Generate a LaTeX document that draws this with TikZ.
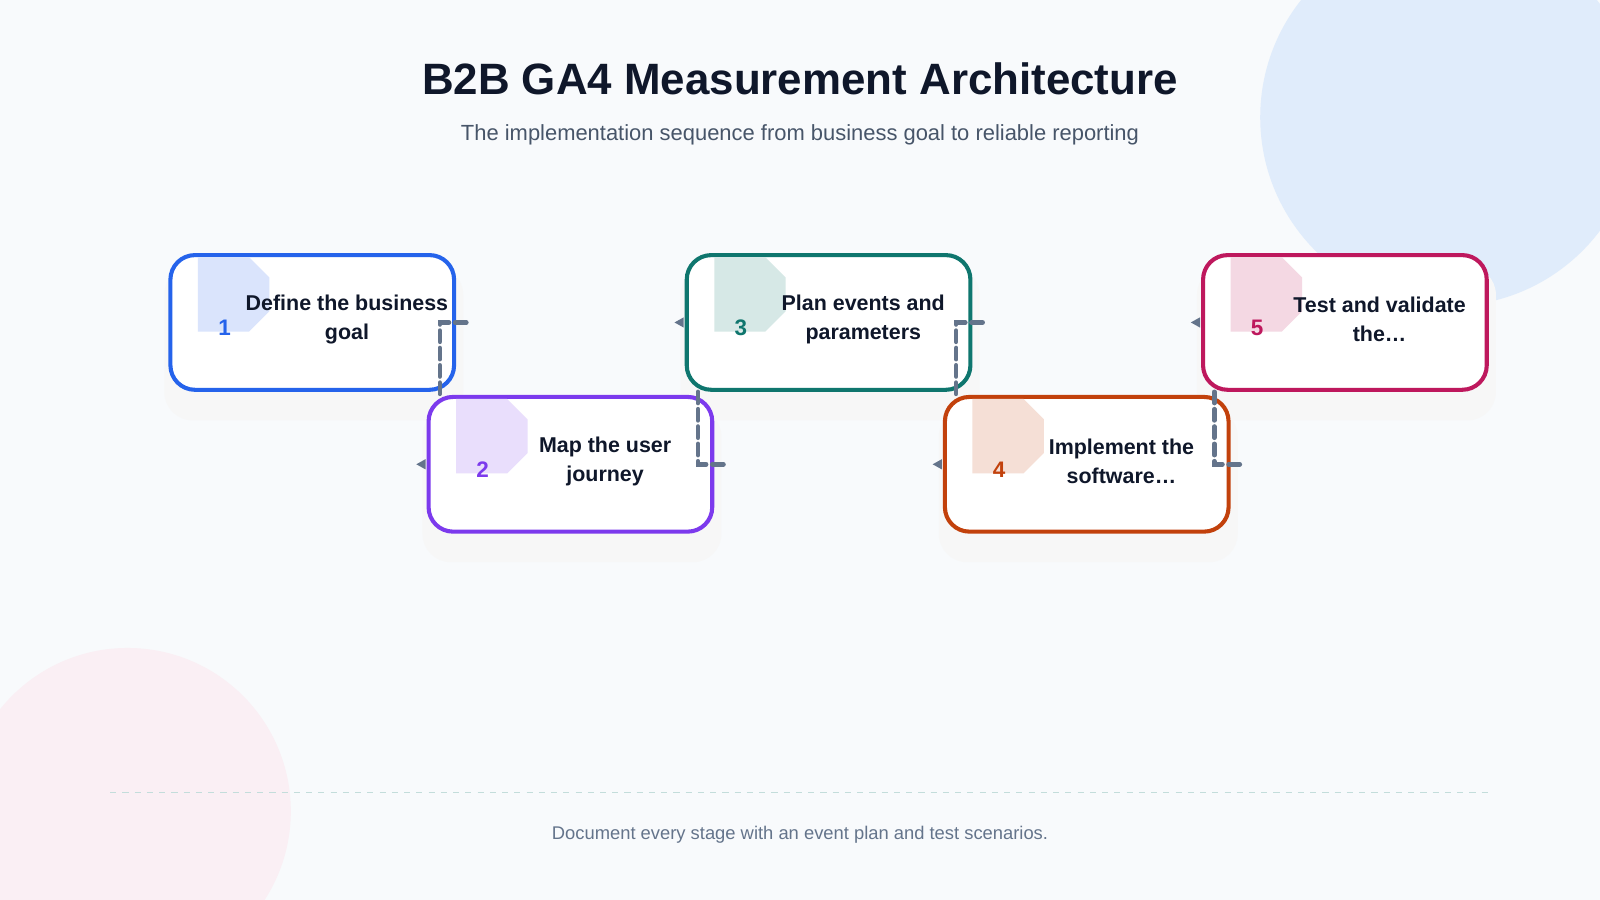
\documentclass[tikz,border=0pt]{standalone}
\usepackage{fontspec}
\setmainfont{Liberation Sans}
\usetikzlibrary{arrows.meta, positioning, calc}
\definecolor{bgpage}{HTML}{F8FAFC}
\definecolor{ink}{HTML}{0F172A}
\definecolor{subink}{HTML}{475569}
\definecolor{connc}{HTML}{64748B}
\definecolor{sA}{HTML}{2563EB}
\definecolor{sB}{HTML}{7C3AED}
\definecolor{sC}{HTML}{0F766E}
\definecolor{sD}{HTML}{C2410C}
\definecolor{sE}{HTML}{BE185D}
\definecolor{blobA}{HTML}{E0ECFB}
\tikzset{
  step/.style={draw=#1, line width=4pt, rounded corners=24pt, fill=white,
    minimum width=278pt, minimum height=132pt, inner sep=0pt},
  shade box/.style={fill=black!3, rounded corners=28pt},
  badge/.style={fill=#1!17, draw=none},
  numtxt/.style={text=#1, font=\bfseries\fontsize{22}{24}\selectfont},
  steptxt/.style={text=ink, align=center, font=\bfseries\fontsize{21}{28}\selectfont},
  conn/.style={draw=connc, line width=4.5pt, dash pattern=on 11pt off 6pt, line cap=round},
  tip/.style={fill=connc, draw=none}
}
\begin{document}
\begin{tikzpicture}[x=1pt, y=-1pt]
\useasboundingbox (0,0) rectangle (1568,882);
\fill[bgpage] (0,0) rectangle (1568,882);
% decorative circles
\begin{scope}
\clip (0,0) rectangle (1568,882);
\fill[blobA] (1420,115) circle (185);
\fill[sE!7] (125,795) circle (160);
\end{scope}
% title
\node[text=ink, font=\bfseries\fontsize{43}{48}\selectfont] (title) at (784,77) {B2B GA4 Measurement Architecture};
\node[text=subink, font=\fontsize{21.5}{24}\selectfont] (subtitle) at (784,132) {The implementation sequence from business goal to reliable reporting};
% shadows first
\foreach \x/\y in {306/316, 559/455, 812/316, 1065/455, 1318/316} {
  \fill[shade box] (\x-145,\y-55) rectangle (\x+148,\y+96);
  \fill[shade box] (\x-141,\y-58) rectangle (\x+144,\y+88);
}
% steps
\foreach \n/\x/\y/\col/\txt in {1/306/316/sA/{Define the business\\goal},
    2/559/455/sB/{Map the user\\journey},
    3/812/316/sC/{Plan events and\\parameters},
    4/1065/455/sD/{Implement the\\software\ldots},
    5/1318/316/sE/{Test and validate\\the\ldots}} {
  \node[step=\col] (b\n) at (\x,\y) {};
  \fill[badge=\col] (\x-112,\y-64) -- (\x-62,\y-64) -- (\x-42,\y-44) -- (\x-42,\y-11) -- (\x-62,\y+9) -- (\x-112,\y+9) -- cycle;
  \node[numtxt=\col] (n\n) at (\x-86,\y+5) {\n};
  \node[steptxt] (t\n) at (\x+34,\y-3) {\txt};
}
% connectors
\coordinate (c1) at ($(b1.east)+(10,0)$);
\coordinate (c2) at ($(b2.north west)+(13,0)$);
\coordinate (c3) at ($(b3.south west)+(13,0)$);
\coordinate (c4) at ($(b2.east)+(10,0)$);
\coordinate (c5) at ($(b3.east)+(10,0)$);
\coordinate (c6) at ($(b4.north west)+(13,0)$);
\coordinate (c7) at ($(b5.south west)+(13,0)$);
\coordinate (c8) at ($(b4.east)+(10,0)$);
\draw[conn] (c1) -| (c2);
\draw[conn] (c3) |- (c4);
\draw[conn] (c5) -| (c6);
\draw[conn] (c7) |- (c8);
% arrow tips
\foreach \b in {2,3,4,5} {
  \fill[tip] ($(b\b.west)+(-10,0)$) -- ++(9,-5) -- ++(0,10) -- cycle;
}
% footer
\draw[sC!25, line width=1.2pt, dash pattern=on 6pt off 6pt] (108,777) coordinate (fl) -- (1458,777) coordinate (fr);
\node[text=connc, font=\fontsize{18}{20}\selectfont] (foot) at (784,818) {Document every stage with an event plan and test scenarios.};
\end{tikzpicture}
\end{document}
